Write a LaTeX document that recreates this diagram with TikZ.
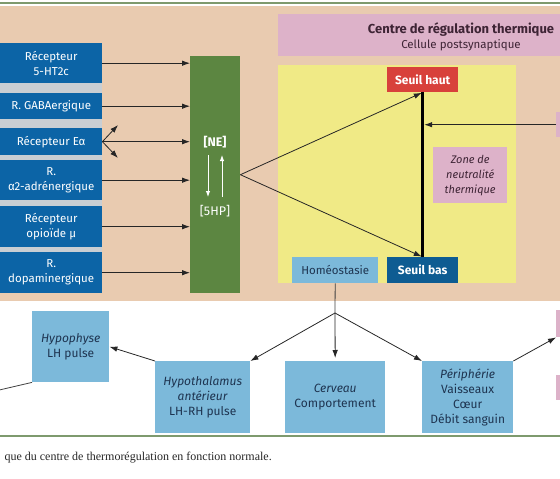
\documentclass[tikz,border=0pt]{standalone}
\usepackage{fontspec}
\setmainfont{Fira Sans}
\newfontfamily\serifleg{Liberation Serif}
\usetikzlibrary{arrows.meta,positioning,calc}
\definecolor{FondBeige}{HTML}{E9CBB0}
\definecolor{RoseBox}{HTML}{DDB2C9}
\definecolor{JauneZone}{HTML}{F0EA86}
\definecolor{BleuFonce}{HTML}{0C64A6}
\definecolor{BleuSeuil}{HTML}{0E5C92}
\definecolor{BleuClair}{HTML}{7CB9DA}
\definecolor{VertNE}{HTML}{5C8641}
\definecolor{RougeSeuil}{HTML}{D8413B}
\definecolor{LigneVerte}{HTML}{7E9A6E}
\definecolor{GrisSep}{HTML}{C9CED3}
\definecolor{TexteFonce}{HTML}{1E3450}
\definecolor{TexteRose}{HTML}{3E2435}
\tikzset{
  boite/.style    = {anchor=north west, inner sep=0pt, align=center,
                     font=\fontsize{12}{15}\selectfont},
  recep/.style    = {boite, fill=BleuFonce, text=white, minimum width=102pt,
                     font=\fontsize{11.5}{15}\selectfont},
  seuil/.style    = {boite, text=white, font=\bfseries\fontsize{12}{15}\selectfont},
  bleuclair/.style= {boite, fill=BleuClair, text=TexteFonce},
  rosebox/.style  = {boite, fill=RoseBox, text=TexteRose},
  flecha/.style   = {-{Latex[length=8pt,width=5.5pt]}, line width=0.8pt, black!85},
  trait/.style    = {line width=0.8pt, black!75},
  flecheb/.style  = {-{Latex[length=6pt,width=4.5pt]}, line width=1pt, white},
  epais/.style    = {line width=2.5pt, black},
}
\begin{document}
\begin{tikzpicture}[x=1pt,y=-1pt]
  \useasboundingbox (0,0) rectangle (560,479);
  \clip (0,0) rectangle (560,479);
  % fonds et filets
  \fill[FondBeige] (0,6) rectangle (560,301);
  \draw[LigneVerte, line width=1.5pt] (0,3) -- (560,3);
  \draw[LigneVerte, line width=1.2pt] (0,436) -- (560,436);
  \fill[GrisSep] (0,43) rectangle (102,293);

  % centre de regulation
  \node[rosebox, minimum width=300pt, minimum height=42pt] (titre) at (278,14) {};
  \node[align=center, text=TexteRose, font=\fontsize{11.5}{15}\selectfont] (titretxt) at (461,37)
    {\textbf{\fontsize{13}{15}\selectfont Centre de régulation thermique}\\Cellule postsynaptique};
  \node[boite, fill=JauneZone, minimum width=238pt, minimum height=218pt] (zone) at (278,65) {};
  \node[seuil, fill=RougeSeuil, minimum width=71pt, minimum height=25pt] (haut) at (387,67) {Seuil haut};
  \node[seuil, fill=BleuSeuil, minimum width=71pt, minimum height=26pt] (bas) at (387,257) {Seuil bas};
  \node[bleuclair, minimum width=86pt, minimum height=26pt, font=\fontsize{11.5}{15}\selectfont]
    (homeo) at (292,257) {Homéostasie};
  \node[rosebox, minimum width=74pt, minimum height=56pt, font=\itshape\fontsize{11}{15}\selectfont]
    (neutre) at (433,147) {Zone de\\neutralité\\thermique};
  \node[rosebox, minimum width=40pt, minimum height=25pt] (droite1) at (556,112) {};
  \draw[epais] (haut.south) -- (bas.north);
  \draw[flecha, shorten >=1.5pt] (droite1.west) -- (droite1.west -| haut.south);

  % recepteurs
  \node[recep, minimum height=40pt] (htc) at (0,43) {Récepteur\\5-HT2c};
  \node[recep, minimum height=26pt] (gaba) at (0,93) {R. GABAergique};
  \node[recep, minimum height=27pt] (ealpha) at (0,128) {Récepteur Eα};
  \node[recep, minimum height=40pt] (alpha2) at (0,160) {R.\\α2-adrénergique};
  \node[recep, minimum height=41pt] (opio) at (0,206) {Récepteur\\opioïde µ};
  \node[recep, minimum height=41pt] (dopa) at (0,252) {R.\\dopaminergique};

  \node[boite, fill=VertNE, minimum width=50pt, minimum height=237pt] (vert) at (190,56) {};
  \node[text=white, font=\bfseries\fontsize{12.5}{12}\selectfont] (ne) at (215,142) {[NE]};
  \node[text=white, font=\fontsize{12.5}{12}\selectfont] (hp) at (215,211) {[5HP]};
  \draw[flecheb] ($(ne)+(-7,13)$) -- ($(hp)+(-7,-14)$);
  \draw[flecheb] ($(hp)+(7,-14)$) -- ($(ne)+(7,13)$);

  \foreach \r in {htc,gaba,ealpha,alpha2,opio,dopa}
    \draw[flecha] (\r.east) -- (\r.east -| vert.west);
  \coordinate (eahaut) at (118,125);
  \coordinate (eabas) at (118,158);
  \draw[flecha] (ealpha.east) -- (eahaut);
  \draw[flecha] (ealpha.east) -- (eabas);
  \draw[flecha, shorten >=1pt] (vert.east) -- (haut.south);
  \draw[flecha, shorten >=1pt] (vert.east) -- (bas.north);

  % effecteurs
  \node[bleuclair, minimum width=77pt, minimum height=71pt] (hypophyse) at (32,311)
    {\textit{Hypophyse}\\LH pulse};
  \node[bleuclair, minimum width=95pt, minimum height=72pt] (hypothal) at (155,361)
    {\textit{Hypothalamus}\\\textit{antérieur}\\LH-RH pulse};
  \node[bleuclair, minimum width=100pt, minimum height=72pt] (cerveau) at (285,361)
    {\textit{Cerveau}\\Comportement};
  \node[bleuclair, minimum width=91pt, minimum height=72pt] (peri) at (422,361)
    {\textit{Périphérie}\\Vaisseaux\\Cœur\\Débit sanguin};
  \node[rosebox, minimum width=40pt, minimum height=27pt] (droite2) at (556,310) {};
  \node[rosebox, minimum width=40pt, minimum height=25pt] (droite3) at (556,375) {};

  \coordinate (jonction) at (335,313);
  \coordinate (sortie) at (-5,391);
  \draw[trait] (homeo.south) -- (jonction);
  \draw[flecha, shorten >=3pt] (jonction) -- (cerveau.north);
  \draw[flecha] (jonction) -- (peri.north west);
  \draw[flecha] (jonction) -- (hypothal.north east);
  \draw[flecha] (hypothal.north west) -- (hypophyse.east);
  \draw[trait] (hypophyse.south west) -- (sortie);
  \draw[flecha] (peri.north east) -- (droite2.south west);

  \node[anchor=base west, text=black!85, font=\serifleg\fontsize{12}{12}\selectfont] (legende) at (1,460)
    {que du centre de thermorégulation en fonction normale.};
\end{tikzpicture}
\end{document}
